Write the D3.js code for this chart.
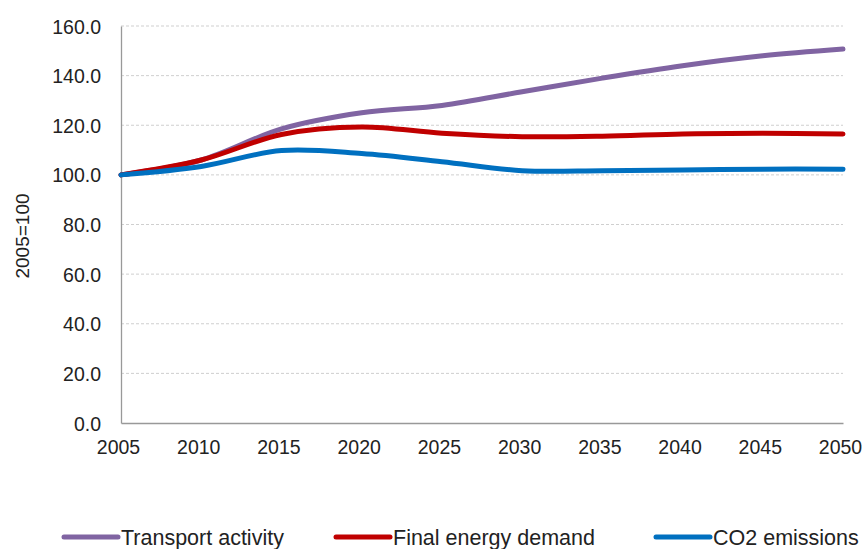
<!DOCTYPE html>
<html>
<head>
<meta charset="utf-8">
<script src="https://cdn.jsdelivr.net/npm/d3@7"></script>
<style>
  body { margin: 0; background: #fff; }
  text { font-family: "Liberation Sans", Arial, sans-serif; fill: #222; }
</style>
</head>
<body>
<script>
// chart data
var years = [2005, 2010, 2015, 2020, 2025, 2030, 2035, 2040, 2045, 2050];
var transportActivity = [100, 106, 118.5, 125, 128, 133.5, 139, 144, 148, 150.7];
var finalEnergyDemand = [100, 106, 116.3, 119.3, 116.8, 115.4, 115.6, 116.5, 116.8, 116.5];
var co2Emissions = [100, 103.4, 109.8, 108.6, 105.3, 101.7, 101.7, 102, 102.3, 102.3];
var seriesNames = ["Transport activity", "Final energy demand", "CO2 emissions"];
var seriesColors = ["#8064a2", "#c00000", "#0070c0"];
var yTicks = [0, 20, 40, 60, 80, 100, 120, 140, 160];

var W = 866, H = 549;
var plot = {left: 121, right: 843, top: 26, bottom: 423};

var svg = d3.select("body").append("svg")
    .attr("width", W)
    .attr("height", H);

var x = d3.scaleLinear().domain([2005, 2050]).range([plot.left, plot.right]);
var y = d3.scaleLinear().domain([0, 160]).range([plot.bottom, plot.top]);

// gridlines
svg.append("g")
  .selectAll("line")
  .data(yTicks.filter(function(d) { return d > 0; }))
  .enter().append("line")
    .attr("x1", plot.left)
    .attr("x2", plot.right)
    .attr("y1", function(d) { return y(d); })
    .attr("y2", function(d) { return y(d); })
    .attr("stroke", "#cfcfcf")
    .attr("stroke-width", 1)
    .attr("stroke-dasharray", "3,2");

// axes
var yAxis = svg.append("g")
    .attr("transform", "translate(" + plot.left + ",0)")
    .call(d3.axisLeft(y).tickValues(yTicks).tickSize(0).tickPadding(20)
      .tickFormat(d3.format(".1f")));
var xAxis = svg.append("g")
    .attr("transform", "translate(0," + plot.bottom + ")")
    .call(d3.axisBottom(x).tickValues(years).tickSize(0).tickPadding(14)
      .tickFormat(d3.format("d")));

[yAxis, xAxis].forEach(function(a) {
  a.select(".domain").attr("stroke", "#999").attr("stroke-width", 1.3);
  a.selectAll("text")
    .style("font-size", "19.5px")
    .style("font-family", "'Liberation Sans', Arial, sans-serif")
    .attr("fill", "#222");
});
yAxis.selectAll("text").attr("dy", "0.36em");
xAxis.selectAll("text").attr("dy", "0.85em").attr("dx", "-3");

// y axis title
svg.append("text")
    .attr("transform", "translate(29,236) rotate(-90)")
    .style("text-anchor", "middle")
    .style("font-size", "19px")
    .text("2005=100");

// lines
var line = d3.line()
    .x(function(d, i) { return x(years[i]); })
    .y(function(d) { return y(d); })
    .curve(d3.curveCatmullRom.alpha(0.5));

var allSeries = [transportActivity, finalEnergyDemand, co2Emissions];

svg.append("g")
  .selectAll("path")
  .data(allSeries)
  .enter().append("path")
    .attr("d", line)
    .attr("fill", "none")
    .attr("stroke", function(d, i) { return seriesColors[i]; })
    .attr("stroke-width", 5)
    .attr("stroke-linecap", "round");

// legend
var legendX = [64, 336, 656];
var legend = svg.append("g")
  .selectAll("g")
  .data(seriesNames)
  .enter().append("g")
    .attr("transform", function(d, i) { return "translate(" + legendX[i] + ",537)"; });

legend.append("line")
    .attr("x1", 0).attr("x2", 54)
    .attr("y1", 0).attr("y2", 0)
    .attr("stroke", function(d, i) { return seriesColors[i]; })
    .attr("stroke-width", 5)
    .attr("stroke-linecap", "round");

legend.append("text")
    .attr("x", 57)
    .attr("dy", "0.36em")
    .style("font-size", "21.5px")
    .text(function(d) { return d; });
</script>
</body>
</html>
